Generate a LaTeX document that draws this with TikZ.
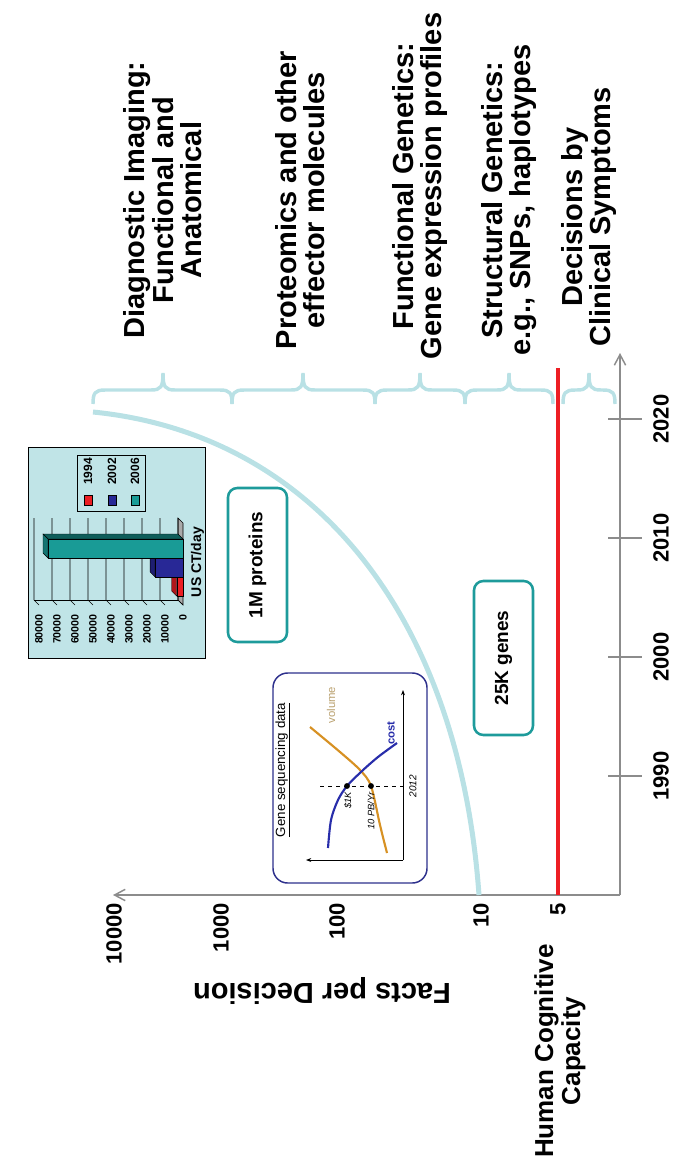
\documentclass[tikz,border=0pt]{standalone}
\usepackage{fontspec}
\setmainfont{Liberation Sans}
\usetikzlibrary{arrows.meta}
\definecolor{lblue}{RGB}{185,225,229}
\definecolor{tealb}{RGB}{30,155,155}
\definecolor{redl}{RGB}{237,30,36}
\definecolor{axisgray}{RGB}{140,140,140}
\definecolor{navyb}{RGB}{45,48,140}
\definecolor{orangec}{RGB}{215,145,35}
\definecolor{volt}{RGB}{185,160,110}
\definecolor{costb}{RGB}{40,45,170}
\definecolor{ctbg}{RGB}{192,228,231}
\definecolor{barteal}{RGB}{25,155,150}
\definecolor{barblue}{RGB}{40,40,150}
\definecolor{barred}{RGB}{235,30,35}
\definecolor{floorgray}{RGB}{170,170,170}
\begin{document}
\begin{tikzpicture}[x=0.75pt,y=-0.75pt,
  title/.style={font=\bfseries\fontsize{21.75}{21.4}\selectfont, align=center, rotate=90, inner sep=0pt},
  axlab/.style={font=\bfseries\fontsize{16.5}{18}\selectfont, rotate=90, inner sep=0pt},
  boxlab/.style={draw=tealb, line width=1.9pt, rounded corners=7pt, rotate=90, font=\bfseries\fontsize{14.25}{16}\selectfont, minimum width=115.5pt, minimum height=44.25pt, inner sep=0pt},
  axisline/.style={draw=axisgray, line width=1.1pt},
  axisarrow/.style={axisline, -{Straight Barb[length=8pt,width=8.5pt]}},
  bracestyle/.style={draw=lblue, line width=2.6pt},
  ctlab/.style={font=\bfseries\fontsize{8}{9}\selectfont, rotate=90, inner sep=0pt},
  small/.style={font=\itshape\fontsize{7}{8}\selectfont, rotate=90, inner sep=0pt}
]
\useasboundingbox (0,0) rectangle (680,1167);

% ---- titles
\node[title] (t1) at (163,200) {Diagnostic Imaging:\\Functional and\\Anatomical};
\node[title] (t2) at (300,200) {Proteomics and other\\effector molecules};
\node[title] (t3) at (420,186) {Functional Genetics:\\Gene expression profiles};
\node[title] (t4) at (509,200) {Structural Genetics:\\e.g., SNPs, haplotypes};
\node[title] (t5) at (589,217) {Decisions by\\Clinical Symptoms};

% ---- braces
\foreach \a/\m/\b in {93/163/232, 232/303/375, 375/420/465, 465/509/553, 563/589/615}
  \draw[bracestyle] (\a,404) .. controls (\a,393) and (\a+2,390) .. (\a+12,390) -- (\m-12,390)
     .. controls (\m-2,390) and (\m,387) .. (\m,373)
     .. controls (\m,387) and (\m+2,390) .. (\m+12,390) -- (\b-12,390)
     .. controls (\b-2,390) and (\b,393) .. (\b,404);

% ---- CT chart inset
\node[draw, fill=ctbg, line width=0.6pt, minimum width=132.75pt, minimum height=158.25pt, inner sep=0pt] (ct) at (116.5,552.5) {};
\draw[line width=0.5pt] (77,455) rectangle (145,511);
\foreach \x/\yy/\c in {88/1994/barred,112/2002/barblue,135/2006/barteal}{
  \node[ctlab, font=\bfseries\fontsize{9}{10}\selectfont, anchor=east] (lg\yy) at (\x,458) {\yy};
  \filldraw[fill=\c, draw=black, line width=0.3pt] (\x-4,495) rectangle (\x+4,505);
}
% floor
\filldraw[fill=floorgray, draw=black, line width=0.4pt] (178,518) -- (183,523) -- (183,605) -- (178,600) -- cycle;
% back wall gridlines and side wall ticks
\foreach \i/\lab in {0/0,1/10000,2/20000,3/30000,4/40000,5/50000,6/60000,7/70000,8/80000}{
  \pgfmathsetmacro{\xb}{178-\i*18}
  \draw[line width=0.4pt] (\xb,518) -- (\xb,600) -- (\xb+5,605);
  \node[ctlab, anchor=east] (ctv\i) at (\xb+5,614) {\lab};
}
\draw[line width=0.4pt] (34,600) -- (178,600);
% bars (drawn bottom to top)
\foreach \y/\h/\c in {577/3.5/barred, 558/15.5/barblue, 539/75/barteal}{
  \pgfmathsetmacro{\xl}{183-\h*1.8}
  \filldraw[fill=\c!60!black, draw=black, line width=0.3pt] (\xl,\y) -- (183,\y) -- (178,\y-5) -- (\xl-5,\y-5) -- cycle;
  \filldraw[fill=\c!75!black, draw=black, line width=0.3pt] (\xl,\y) -- (\xl,\y+19) -- (\xl-5,\y+14) -- (\xl-5,\y-5) -- cycle;
  \filldraw[fill=\c, draw=black, line width=0.3pt] (\xl,\y) rectangle (183,\y+19);
}
\node[ctlab, font=\bfseries\fontsize{10.5}{11}\selectfont] (ctl) at (197.5,562) {US CT/day};

% ---- axes
\coordinate (O) at (620,895);
\coordinate (ytip) at (113,895);
\coordinate (xtip) at (620,353);
\draw[axisarrow] (O) -- (ytip);
\draw[axisarrow] (O) -- (xtip);
\foreach \y/\yr in {776/1990,657/2000,538/2010,419/2020}{
  \draw[axisline] (608,\y) -- (642,\y);
  \node[axlab] (yr\yr) at (661,\y) {\yr};
}
\foreach \x/\v in {114/10000,221/1000,337/100,481/10,558/5}
  \node[axlab, anchor=east] (v\v) at (\x,903) {\v};

% ---- red capacity line
\coordinate (rtop) at (558,368);
\coordinate (rbot) at (558,895);
\draw[redl, line width=3.5pt] (rtop) -- (rbot);

% ---- data curve
\coordinate (c0) at (93,412);
\coordinate (c1) at (479,895);
\draw[lblue, line width=3.75pt] (c0) .. controls (313,434) and (459,615) .. (c1);

% ---- axis titles
\node[font=\bfseries\fontsize{21.75}{22}\selectfont, rotate=180, inner sep=0pt] (fpd) at (322,991) {Facts per Decision};
\node[font=\bfseries\fontsize{19.5}{20.25}\selectfont, rotate=90, align=center, inner sep=0pt] (hcc) at (560,1051) {Human Cognitive\\Capacity};

% ---- boxes
\node[boxlab] (prot) at (257.5,565) {1M proteins};
\node[boxlab] (genes) at (503.5,658) {25K genes};

% ---- gene sequencing inset
\node[draw=navyb, line width=1.1pt, rounded corners=11pt, minimum width=115.5pt, minimum height=157.5pt] (gs) at (350,778) {};
\node[font=\fontsize{10}{11}\selectfont, rotate=90, inner sep=0pt] (gst) at (283,770) {\underline{Gene sequencing data}};
\coordinate (gso) at (403,860);
\coordinate (gsl) at (306,860);
\coordinate (gsu) at (403,690);
\draw[line width=0.6pt, -{Stealth[length=4pt,width=3pt]}] (gso) -- (gsl);
\draw[line width=0.6pt, -{Stealth[length=4pt,width=3pt]}] (gso) -- (gsu);
\draw[orangec, line width=1.6pt] plot[smooth] coordinates {(387,853) (380,825) (371,786) (360,770) (340,752) (310,727)};
\draw[costb, line width=1.6pt] plot[smooth] coordinates {(328,848) (331,820) (338,800) (347,786) (362,771) (378,757) (397,743)};
\coordinate (dl) at (320,786);
\coordinate (dr) at (403,786);
\draw[dashed, line width=0.6pt] (dl) -- (dr);
\fill (347,786) circle (2.2pt);
\fill (371,786) circle (2.2pt);
\node[small, anchor=east] (k1) at (348,792) {\$1K};
\node[small, anchor=east] (pb) at (371,792) {10 PB/Yr};
\node[small, font=\itshape\fontsize{7.5}{8}\selectfont] (y12) at (413,786) {2012};
\node[font=\fontsize{8.5}{9}\selectfont, rotate=90, inner sep=0pt, text=volt] (vol) at (331,705) {volume};
\node[font=\bfseries\fontsize{8.5}{9}\selectfont, rotate=90, inner sep=0pt, text=costb] (cst) at (391,733) {cost};
\end{tikzpicture}
\end{document}
